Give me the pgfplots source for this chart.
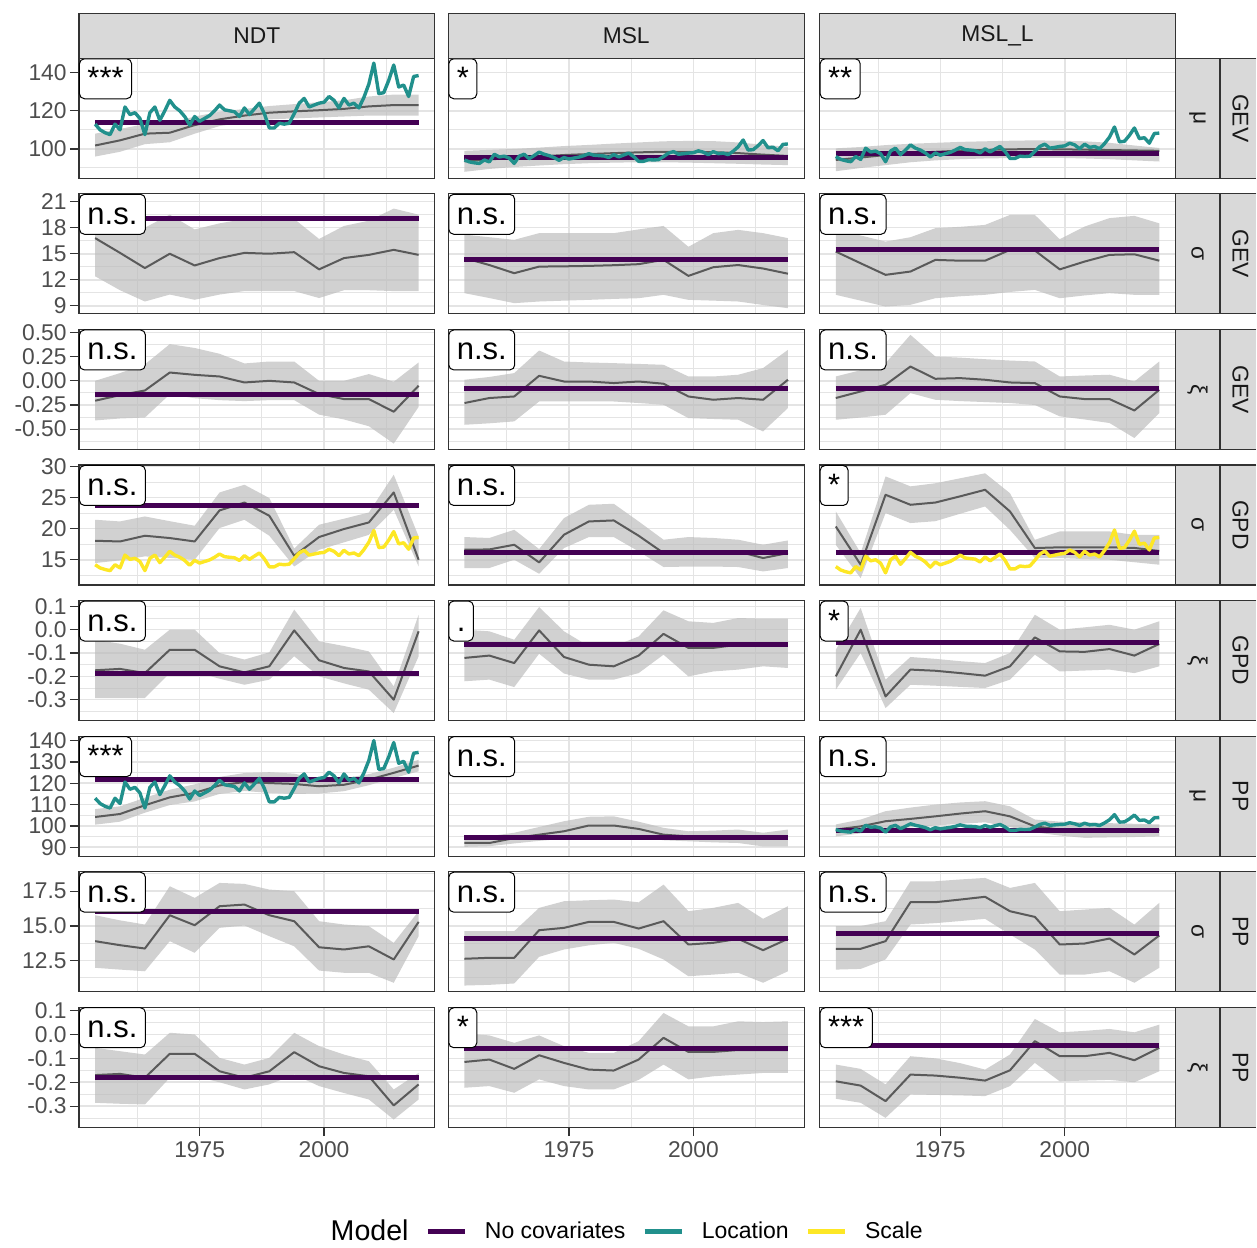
\documentclass[border=0pt]{standalone}
\usepackage{fontspec}
\setmainfont{Liberation Sans}
\usepackage{pgfplots}
\usepackage{pgfplotstable}
\pgfplotsset{compat=1.18}
\usepgfplotslibrary{fillbetween}

\definecolor{nocovc}{HTML}{440154}
\definecolor{locc}{HTML}{21908C}
\definecolor{sclc}{HTML}{FDE725}
\definecolor{glc}{HTML}{5A5A5A}
\definecolor{ribc}{HTML}{BDBDBD}
\definecolor{gridc}{HTML}{E4E4E4}
\definecolor{framec}{HTML}{333333}
\definecolor{stripc}{HTML}{D9D9D9}
\definecolor{tickc}{HTML}{4D4D4D}
\definecolor{stript}{HTML}{1A1A1A}

\newcommand\ticksize{\fontsize{11.4}{13.7}\selectfont}
\newcommand\sigsize{\fontsize{15.5}{18}\selectfont}
\newcommand\legsize{\fontsize{11.5}{14}\selectfont}

\tikzset{
  ribbonst/.style={fill=ribc, fill opacity=0.7, draw=none},
  glinest/.style={draw=glc, line width=1pt, line join=round},
  nocovst/.style={draw=nocovc, line width=2.5pt},
  locst/.style={draw=locc, line width=1.7pt, line join=round},
  sclst/.style={draw=sclc, line width=1.7pt, line join=round},
  sigst/.style={draw=black, fill=white, rounded corners=2.5pt, line width=0.5pt, anchor=north west,
     inner xsep=4pt, inner ysep=0pt, text height=15pt, text depth=5pt, font=\sigsize},
  striptext/.style={font=\ticksize, text=stript},
  stripbox/.style={fill=stripc, draw=framec, line width=0.6pt},
}

\pgfplotsset{
  mypanel/.style={
    width=178pt, height=60pt, scale only axis, anchor=north west,
    xmin=1950.75, xmax=2022.25,
    xtick={1975,2000}, minor xtick={1962.5,1987.5,2012.5},
    xticklabels={},
    grid=both,
    major grid style={draw=gridc, line width=0.8pt},
    minor grid style={draw=gridc, line width=0.5pt},
    tick align=outside, major tick length=4.5pt, minor tick length=0pt,
    tick pos=left,
    axis line style={draw=framec, line width=0.6pt},
    xtick style={draw=none}, ytick style={draw=none},
    tick label style={font=\ticksize, text=tickc},
    yticklabel style={inner xsep=1.5pt},
    xticklabel style={inner ysep=2.5pt},
    clip=false,
  },
  rowA/.style={ymin=84.64, ymax=147.55, ytick={100,120,140}, minor ytick={90,110,130}, yticklabels={100,120,140}},
  rowB/.style={ymin=8.09, ymax=21.9, ytick={9,12,15,18,21}, minor ytick={10.5,13.5,16.5,19.5}, yticklabels={9,12,15,18,21}},
  rowC/.style={ymin=-0.71, ymax=0.532, ytick={-0.5,-0.25,0,0.25,0.5}, minor ytick={-0.625,-0.375,-0.125,0.125,0.375}, yticklabels={-0.50,-0.25,0.00,0.25,0.50}},
  rowD/.style={ymin=10.95, ymax=30.24, ytick={15,20,25,30}, minor ytick={12.5,17.5,22.5,27.5}, yticklabels={15,20,25,30}},
  rowE/.style={ymin=-0.389, ymax=0.125, ytick={-0.3,-0.2,-0.1,0,0.1}, minor ytick={-0.35,-0.25,-0.15,-0.05,0.05}, yticklabels={-0.3,-0.2,-0.1,0.0,0.1}},
  rowF/.style={ymin=85.85, ymax=142.1, ytick={90,100,110,120,130,140}, minor ytick={95,105,115,125,135}, yticklabels={90,100,110,120,130,140}},
  rowG/.style={ymin=10.26, ymax=18.91, ytick={12.5,15,17.5}, minor ytick={11.25,13.75,16.25,18.75}, yticklabels={12.5,15.0,17.5}},
  rowH/.style={ymin=-0.388, ymax=0.114, ytick={-0.3,-0.2,-0.1,0,0.1}, minor ytick={-0.35,-0.25,-0.15,-0.05,0.05}, yticklabels={-0.3,-0.2,-0.1,0.0,0.1}},
  colA/.style={ytick style={draw=framec, line width=0.6pt}},
  colB/.style={yticklabels={}},
  colC/.style={yticklabels={}},
  botrow/.style={xticklabels={1975,2000}, xtick style={draw=framec, line width=0.6pt}},
}

% yearly series (Location / Scale models)
\pgfplotstableread{
yr t11 t12 t13 t61 t63 s41 s43
1954 113 94.2 96.0 113.0 98.3 14.20 13.90
1955 110 93.2 94.5 110.5 97.6 13.68 13.35
1956 108.5 92.7 93.8 109.2 97.3 13.43 13.07
1957 107.5 92.4 93.3 108.4 97.1 13.25 12.89
1958 113 94.2 96.0 113.0 98.3 14.20 13.90
1959 110 93.2 94.5 110.5 97.6 13.68 13.35
1960 122 97.2 100.4 120.6 100.3 15.75 15.56
1961 118 95.8 98.4 117.2 99.4 15.06 14.82
1962 119 96.2 98.9 118.1 99.6 15.23 15.00
1963 116 95.2 97.5 115.5 99.0 14.72 14.45
1964 107.5 92.4 93.3 108.4 97.1 13.25 12.89
1965 119 96.2 98.9 118.1 99.6 15.23 15.00
1966 122 97.2 100.4 120.6 100.3 15.75 15.56
1967 115 94.9 97.0 114.7 98.7 14.54 14.27
1968 120 96.5 99.4 118.9 99.8 15.40 15.19
1969 125.5 98.3 102.1 123.5 101.0 16.35 16.20
1970 122 97.2 100.4 120.6 100.3 15.75 15.56
1971 120 96.5 99.4 118.9 99.8 15.40 15.19
1972 117 95.5 97.9 116.4 99.2 14.89 14.64
1973 112.5 94.0 95.8 112.6 98.2 14.11 13.81
1974 117 95.5 97.9 116.4 99.2 14.89 14.64
1975 114.5 94.7 96.7 114.3 98.6 14.46 14.18
1976 116 95.2 97.5 115.5 99.0 14.72 14.45
1977 117.5 95.7 98.2 116.8 99.3 14.97 14.73
1978 120 96.5 99.4 118.9 99.8 15.40 15.19
1979 123 97.5 100.8 121.4 100.5 15.92 15.74
1980 120.5 96.7 99.6 119.3 99.9 15.49 15.28
1981 120 96.5 99.4 118.9 99.8 15.40 15.19
1982 119.5 96.3 99.1 118.5 99.7 15.32 15.10
1983 117 95.5 97.9 116.4 99.2 14.89 14.64
1984 121.5 97.0 100.1 120.2 100.2 15.66 15.46
1985 118 95.8 98.4 117.2 99.4 15.06 14.82
1986 121 96.8 99.9 119.7 100.1 15.58 15.37
1987 124 97.8 101.3 122.3 100.7 16.09 15.92
1988 118.5 96.0 98.7 117.6 99.5 15.15 14.91
1989 111 93.5 95.0 111.3 97.9 13.86 13.53
1990 111 93.5 95.0 111.3 97.9 13.86 13.53
1991 113.5 94.4 96.2 113.4 98.4 14.29 13.99
1992 113 94.2 96.0 113.0 98.3 14.20 13.90
1993 113.5 94.4 96.2 113.4 98.4 14.29 13.99
1994 118.5 96.0 98.7 117.6 99.5 15.15 14.91
1995 124 97.8 101.3 122.3 100.7 16.09 15.92
1996 126.5 98.6 102.5 124.4 101.3 16.52 16.38
1997 122 97.2 100.4 120.6 100.3 15.75 15.56
1998 123 97.5 100.8 121.4 100.5 15.92 15.74
1999 124 97.8 101.3 122.3 100.7 16.09 15.92
2000 124.5 98.0 101.6 122.7 100.8 16.18 16.02
2001 127.5 99.0 103.0 125.2 101.5 16.69 16.57
2002 125.5 98.3 102.1 123.5 101.0 16.35 16.20
2003 121.5 97.0 100.1 120.2 100.2 15.66 15.46
2004 126.5 98.6 102.5 124.4 101.3 16.52 16.38
2005 123 97.5 100.8 121.4 100.5 15.92 15.74
2006 124 97.8 101.3 122.3 100.7 16.09 15.92
2007 121.5 97.0 100.1 120.2 100.2 15.66 15.46
2008 127 98.8 102.8 124.8 101.4 16.61 16.48
2009 134 101.1 106.2 130.7 102.9 17.81 17.76
2010 145 104.7 111.5 140.0 105.3 19.70 19.79
2011 129 99.4 103.7 126.5 101.8 16.95 16.84
2012 129.5 99.6 104.0 126.9 101.9 17.04 16.94
2013 136 101.7 107.1 132.4 103.3 18.16 18.13
2014 144 104.4 111.0 139.1 105.1 19.53 19.60
2015 132.5 100.6 105.4 129.4 102.6 17.55 17.49
2016 133.5 100.9 105.9 130.3 102.8 17.73 17.67
2017 127.5 99.0 103.0 125.2 101.5 16.69 16.57
2018 138 102.4 108.1 134.1 103.8 18.50 18.50
2019 138.5 102.6 108.3 134.5 103.9 18.59 18.59
}\tY

% row tables: lower / estimate / upper for NDT (1), MSL (2), MSL_L (3)
\pgfplotstableread{
yr lo1 m1 hi1 lo2 m2 hi2 lo3 m3 hi3
1954 96 101.8 108 88 93.5 99 88.3 94.2 100.3
1959 98.5 104.5 110.5 89.5 94.5 99.5 90 95.5 101
1964 102.5 108 113 90.5 95.3 100 91.5 96.8 102
1969 103.5 108.5 113.5 91.3 96 100.7 93 97.8 102.7
1974 108 112.5 117 92 96.8 101.5 94 98.5 103.2
1979 112 115.5 119.5 92.5 97.3 102.1 94.6 99.1 103.7
1984 114 117.5 121 92.8 97.8 102.8 95 99.5 104
1989 115.5 119 122.5 93 98.2 103.4 95.2 99.8 104.3
1994 116 119.7 123.5 93 98.5 104 95.3 99.9 104.5
1999 116.5 120.3 124.5 92.8 98.5 104.2 95.3 99.8 104.3
2004 117 121 125.5 92.5 98.3 104.1 95 99.6 104
2009 117.5 122.3 127.5 92.2 97.8 103.4 94.6 99.4 103.2
2014 117.5 123 128.5 91.8 97 102.2 94 99.2 101.8
2019 117.5 123 128.5 91.5 96.3 101.1 93.4 99.0 100.5
}\tRa
\pgfplotstableread{
yr lo1 m1 hi1 lo2 m2 hi2 lo3 m3 hi3
1954 12.4 16.8 21.0 10.46 14.5 17.2 10.27 15.25 17.75
1959 10.8 15.1 19.5 9.9 13.7 16.9 9.6 13.9 17.1
1964 9.5 13.35 18.0 9.31 12.76 16.6 8.92 12.57 16.4
1969 10.3 15.0 19.5 9.5 13.52 17.37 9.12 12.95 16.9
1974 9.7 13.65 17.8 9.6 13.55 17.37 9.88 14.29 17.94
1979 10.3 14.5 18.5 9.69 13.6 17.37 10.1 14.2 18.1
1984 10.7 15.1 19.0 9.8 13.68 17.37 10.27 14.2 18.32
1989 10.7 15.0 19.0 9.88 13.8 17.8 10.6 15.44 19.47
1994 10.7 15.18 19.0 10.27 14.3 18.2 10.84 15.37 19.47
1999 9.9 13.2 16.7 9.69 12.45 15.8 9.88 13.2 16.67
2004 10.8 14.5 18.2 9.6 13.45 17.37 10.2 14.1 18.13
2009 10.8 14.87 18.8 9.5 13.7 17.75 10.46 14.87 19.1
2014 10.7 15.45 20.2 9.1 13.3 17.37 10.27 14.94 19.36
2019 10.7 14.87 19.5 8.73 12.7 16.8 10.27 14.2 18.5
}\tRb
\pgfplotstableread{
yr lo1 m1 hi1 lo2 m2 hi2 lo3 m3 hi3
1954 -0.41 -0.206 0.0 -0.455 -0.23 0.011 -0.403 -0.178 0.045
1959 -0.39 -0.148 0.08 -0.44 -0.178 0.04 -0.38 -0.11 0.11
1964 -0.38 -0.1 0.17 -0.42 -0.162 0.08 -0.351 -0.041 0.183
1969 -0.14 0.086 0.38 -0.214 0.052 0.314 -0.127 0.148 0.476
1974 -0.18 0.062 0.34 -0.214 -0.007 0.2 -0.196 0.021 0.252
1979 -0.2 0.045 0.28 -0.214 -0.007 0.19 -0.21 0.028 0.24
1984 -0.21 -0.017 0.18 -0.214 -0.023 0.183 -0.22 0.011 0.224
1989 -0.2 0.0 0.2 -0.23 -0.007 0.175 -0.23 -0.017 0.21
1994 -0.2 -0.017 0.2 -0.248 -0.03 0.166 -0.25 -0.024 0.2
1999 -0.35 -0.137 0.0 -0.386 -0.162 0.045 -0.368 -0.162 0.045
2004 -0.4 -0.189 0.0 -0.395 -0.196 0.045 -0.4 -0.189 0.055
2009 -0.47 -0.189 0.07 -0.403 -0.178 0.063 -0.437 -0.189 0.063
2014 -0.65 -0.32 -0.01 -0.524 -0.196 0.132 -0.592 -0.307 -0.007
2019 -0.27 -0.051 0.19 -0.282 0.011 0.321 -0.334 -0.093 0.2
}\tRc
\pgfplotstableread{
yr lo1 m1 hi1 lo2 m2 hi2 lo3 m3 hi3
1954 14.47 18.05 21.43 13.67 16.61 18.65 17.4 20.35 22.77
1959 14.9 17.94 21.16 13.67 16.66 18.5 12.05 14.2 16.08
1964 15.54 18.86 21.96 15.0 17.41 19.82 22.5 25.45 28.4
1969 15.3 18.49 21.2 12.75 14.57 16.72 20.9 23.84 26.8
1974 15.0 17.94 20.47 16.88 19.02 21.7 21.2 24.2 27.3
1979 20.1 22.93 25.82 18.65 21.16 23.84 22.4 25.2 28.1
1984 21.43 24.2 27.06 18.65 21.32 24.0 23.57 26.25 28.9
1989 18.86 22.07 24.92 16.34 18.86 21.16 19.8 22.77 25.7
1994 13.92 15.64 16.8 13.83 16.08 18.22 15.27 16.88 18.2
1999 16.6 18.65 20.63 13.9 16.34 18.65 15.27 17.0 19.55
2004 17.8 19.94 21.6 13.9 16.34 18.5 15.1 17.0 19.55
2009 19.0 21.0 22.6 13.83 16.34 18.22 15.0 17.0 19.55
2014 23.04 25.82 28.67 13.12 15.27 17.41 14.6 16.9 19.0
2019 13.92 15.0 18.75 13.67 16.08 18.1 14.2 16.4 19.0
}\tRd
\pgfplotstableread{
yr lo1 m1 hi1 lo2 m2 hi2 lo3 m3 hi3
1954 -0.293 -0.174 -0.043 -0.221 -0.121 0.0 -0.257 -0.2 -0.086
1959 -0.293 -0.168 -0.06 -0.214 -0.111 -0.007 -0.1 0.0 0.093
1964 -0.293 -0.186 -0.086 -0.246 -0.143 -0.043 -0.336 -0.286 -0.214
1969 -0.186 -0.086 0.0 -0.103 -0.003 0.097 -0.236 -0.171 -0.117
1974 -0.18 -0.086 0.0 -0.188 -0.117 -0.007 -0.24 -0.176 -0.125
1979 -0.21 -0.157 -0.1 -0.214 -0.15 -0.071 -0.245 -0.186 -0.135
1984 -0.236 -0.183 -0.128 -0.214 -0.157 -0.071 -0.25 -0.197 -0.143
1989 -0.214 -0.157 -0.097 -0.186 -0.111 -0.029 -0.214 -0.157 -0.1
1994 -0.114 -0.003 0.086 -0.107 -0.018 0.083 -0.107 -0.033 0.064
1999 -0.2 -0.131 -0.05 -0.2 -0.078 0.036 -0.179 -0.093 0.0
2004 -0.23 -0.164 -0.07 -0.179 -0.078 0.029 -0.175 -0.095 0.01
2009 -0.257 -0.179 -0.093 -0.171 -0.064 0.05 -0.171 -0.083 0.021
2014 -0.357 -0.3 -0.243 -0.157 -0.064 0.047 -0.186 -0.111 0.0
2019 -0.114 -0.007 0.064 -0.164 -0.064 0.047 -0.157 -0.061 0.036
}\tRe
\pgfplotstableread{
yr lo1 m1 hi1 lo2 m2 hi2 lo3 m3 hi3
1954 100.6 104.2 107.9 90.2 92.0 94.9 95.1 98.3 100.7
1959 102.0 105.6 109.2 90.5 92.0 95.2 96.5 99.8 103.0
1964 106.2 109.7 113.2 91.8 94.3 96.8 98.3 102.2 106.9
1969 109.8 113.4 117.0 93.0 95.9 99.5 99.3 103.3 108.6
1974 111.5 115.5 119.5 94.0 97.5 102.2 100.2 104.5 110.0
1979 115.0 119.0 123.0 95.0 100.2 104.3 101.0 105.8 111.0
1984 116.4 120.6 124.8 95.5 100.2 104.5 101.7 106.9 111.6
1989 115.5 120.1 125.2 95.0 98.6 102.0 99.5 104.5 109.2
1994 115.0 119.7 124.5 93.3 95.9 99.1 97.0 99.8 103.0
1999 115.2 118.6 122.0 92.8 95.1 97.5 95.5 98.3 102.0
2004 116.3 119.3 122.3 92.3 94.8 97.8 94.4 98.0 101.7
2009 119.1 121.7 124.3 92.0 95.1 98.3 94.6 98.0 101.3
2014 122.5 124.9 127.3 90.4 94.3 96.8 94.8 98.0 101.0
2019 125.6 128.3 131.0 90.4 94.3 98.3 95.1 98.1 100.7
}\tRf
\pgfplotstableread{
yr lo1 m1 hi1 lo2 m2 hi2 lo3 m3 hi3
1954 11.98 13.9 15.77 10.7 12.63 14.62 11.85 13.35 14.98
1959 11.85 13.61 15.4 10.75 12.7 14.62 11.9 13.35 14.99
1964 11.73 13.37 15.1 10.85 12.7 14.62 12.58 13.9 15.34
1969 13.9 15.77 17.86 12.77 14.69 16.3 15.1 16.71 18.22
1974 13.06 15.05 17.02 13.3 14.86 16.78 15.2 16.71 18.22
1979 14.86 16.42 18.1 13.6 15.29 16.85 15.35 16.9 18.35
1984 15.03 16.54 18.03 13.78 15.29 16.9 15.51 17.1 18.46
1989 14.26 15.77 17.62 13.35 14.81 16.7 14.38 16.06 17.74
1994 13.53 15.34 17.5 12.58 15.34 17.98 13.3 15.65 18.1
1999 11.78 13.46 15.34 11.37 13.66 16.06 11.49 13.66 16.06
2004 11.62 13.3 15.1 11.49 13.78 16.3 11.49 13.73 16.18
2009 11.62 13.53 14.98 11.62 14.07 16.66 11.73 14.09 16.3
2014 10.9 12.58 13.78 10.9 13.25 15.51 10.9 12.94 15.1
2019 14.26 15.29 16.06 11.73 14.07 16.42 11.98 14.31 16.66
}\tRg
\pgfplotstableread{
yr lo1 m1 hi1 lo2 m2 hi2 lo3 m3 hi3
1954 -0.286 -0.17 -0.056 -0.223 -0.115 0.004 -0.269 -0.196 -0.126
1959 -0.29 -0.165 -0.07 -0.216 -0.105 -0.004 -0.286 -0.214 -0.144
1964 -0.293 -0.181 -0.084 -0.244 -0.144 -0.035 -0.349 -0.279 -0.209
1969 -0.181 -0.081 0.007 -0.188 -0.087 -0.004 -0.251 -0.168 -0.091
1974 -0.175 -0.081 0.0 -0.216 -0.119 -0.049 -0.253 -0.172 -0.1
1979 -0.2 -0.154 -0.098 -0.23 -0.147 -0.077 -0.255 -0.181 -0.12
1984 -0.23 -0.181 -0.126 -0.23 -0.151 -0.077 -0.258 -0.193 -0.147
1989 -0.209 -0.154 -0.098 -0.19 -0.105 -0.028 -0.216 -0.15 -0.084
1994 -0.168 -0.074 0.007 -0.126 -0.014 0.09 -0.119 -0.028 0.065
1999 -0.216 -0.133 -0.049 -0.188 -0.073 0.034 -0.196 -0.091 0.009
2004 -0.245 -0.161 -0.084 -0.175 -0.073 0.034 -0.193 -0.091 0.015
2009 -0.272 -0.175 -0.112 -0.168 -0.065 0.055 -0.19 -0.077 0.023
2014 -0.356 -0.297 -0.23 -0.161 -0.065 0.052 -0.2 -0.108 0.009
2019 -0.272 -0.209 -0.161 -0.161 -0.065 0.055 -0.154 -0.056 0.041
}\tRh

% #1 name, #2 position, #3 options, #4 table, #5 column, #6 no-covariates value, #7 label, #8 extra plots
\newcommand{\panel}[8]{%
\begin{axis}[mypanel, name=#1, at={#2}, #3]
\addplot[name path=lowb, draw=none, forget plot] table[x=yr, y=lo#5]{#4};
\addplot[name path=highb, draw=none, forget plot] table[x=yr, y=hi#5]{#4};
\addplot[ribbonst, forget plot] fill between[of=lowb and highb];
\addplot[glinest, forget plot] table[x=yr, y=m#5]{#4};
\addplot[nocovst, forget plot] coordinates {(1954,#6) (2019,#6)};
#8
\node[sigst] at (rel axis cs:0,1) {#7};
\end{axis}}

\begin{document}
\begin{tikzpicture}

% Row 1: GEV mu
\panel{a11}{(39.5pt,-29.15pt)}{rowA,colA}{\tRa}{1}{113.8}{***}{\addplot[locst, forget plot] table[x=yr,y=t11]{\tY};}
\panel{a12}{(224.25pt,-29.15pt)}{rowA,colB}{\tRa}{2}{95.4}{*}{\addplot[locst, forget plot] table[x=yr,y=t12]{\tY};}
\panel{a13}{(410pt,-29.15pt)}{rowA,colC}{\tRa}{3}{97.7}{**}{\addplot[locst, forget plot] table[x=yr,y=t13]{\tY};}
% Row 2: GEV sigma
\panel{a21}{(39.5pt,-96.95pt)}{rowB,colA}{\tRb}{1}{19.09}{n.s.}{}
\panel{a22}{(224.25pt,-96.95pt)}{rowB,colB}{\tRb}{2}{14.29}{n.s.}{}
\panel{a23}{(410pt,-96.95pt)}{rowB,colC}{\tRb}{3}{15.44}{n.s.}{}
% Row 3: GEV xi
\panel{a31}{(39.5pt,-164.8pt)}{rowC,colA}{\tRc}{1}{-0.144}{n.s.}{}
\panel{a32}{(224.25pt,-164.8pt)}{rowC,colB}{\tRc}{2}{-0.075}{n.s.}{}
\panel{a33}{(410pt,-164.8pt)}{rowC,colC}{\tRc}{3}{-0.082}{n.s.}{}
% Row 4: GPD sigma
\panel{a41}{(39.5pt,-232.6pt)}{rowD,colA}{\tRd}{1}{23.68}{n.s.}{\addplot[sclst, forget plot] table[x=yr,y=s41]{\tY};}
\panel{a42}{(224.25pt,-232.6pt)}{rowD,colB}{\tRd}{2}{16.24}{n.s.}{}
\panel{a43}{(410pt,-232.6pt)}{rowD,colC}{\tRd}{3}{16.24}{*}{\addplot[sclst, forget plot] table[x=yr,y=s43]{\tY};}
% Row 5: GPD xi
\panel{a51}{(39.5pt,-300.4pt)}{rowE,colA}{\tRe}{1}{-0.186}{n.s.}{}
\panel{a52}{(224.25pt,-300.4pt)}{rowE,colB}{\tRe}{2}{-0.064}{.}{}
\panel{a53}{(410pt,-300.4pt)}{rowE,colC}{\tRe}{3}{-0.053}{*}{}
% Row 6: PP mu
\panel{a61}{(39.5pt,-368.25pt)}{rowF,colA}{\tRf}{1}{121.7}{***}{\addplot[locst, forget plot] table[x=yr,y=t61]{\tY};}
\panel{a62}{(224.25pt,-368.25pt)}{rowF,colB}{\tRf}{2}{94.7}{n.s.}{}
\panel{a63}{(410pt,-368.25pt)}{rowF,colC}{\tRf}{3}{98.0}{n.s.}{\addplot[locst, forget plot] table[x=yr,y=t63]{\tY};}
% Row 7: PP sigma
\panel{a71}{(39.5pt,-436.05pt)}{rowG,colA}{\tRg}{1}{16.01}{n.s.}{}
\panel{a72}{(224.25pt,-436.05pt)}{rowG,colB}{\tRg}{2}{14.09}{n.s.}{}
\panel{a73}{(410pt,-436.05pt)}{rowG,colC}{\tRg}{3}{14.45}{n.s.}{}
% Row 8: PP xi
\panel{a81}{(39.5pt,-503.85pt)}{rowH,colA,botrow}{\tRh}{1}{-0.181}{n.s.}{}
\panel{a82}{(224.25pt,-503.85pt)}{rowH,colB,botrow}{\tRh}{2}{-0.059}{*}{}
\panel{a83}{(410pt,-503.85pt)}{rowH,colC,botrow}{\tRh}{3}{-0.045}{***}{}

% top strips
\path[stripbox] (a11.north west) rectangle ([yshift=22.5pt]a11.north east);
\node[striptext] at ([yshift=11.25pt]a11.north) {NDT};
\path[stripbox] (a12.north west) rectangle ([yshift=22.5pt]a12.north east);
\node[striptext] at ([yshift=11.25pt]a12.north) {MSL};
\path[stripbox] (a13.north west) rectangle ([yshift=22.5pt]a13.north east);
\node[striptext] at ([yshift=11.25pt]a13.north) {MSL\_L};

% right strips
\foreach \r/\p/\m in {1/μ/GEV, 2/σ/GEV, 3/ξ/GEV, 4/σ/GPD, 5/ξ/GPD, 6/μ/PP, 7/σ/PP, 8/ξ/PP}{
  \path[stripbox] (a\r3.north east) rectangle ([xshift=22pt]a\r3.south east);
  \node[striptext, rotate=-90] at ([xshift=11pt]a\r3.east) {\p};
  \path[fill=stripc] ([xshift=22.5pt]a\r3.north east) rectangle ([xshift=40.5pt]a\r3.south east);
  \draw[draw=framec, line width=0.6pt] ([xshift=40.5pt]a\r3.north east) -- ([xshift=22.5pt]a\r3.north east) -- ([xshift=22.5pt]a\r3.south east) -- ([xshift=40.5pt]a\r3.south east);
  \node[striptext, rotate=-90] at ([xshift=32.5pt]a\r3.east) {\m};
}

% legend
\begin{axis}[at={(309pt,-616pt)}, anchor=center, hide axis, scale only axis,
  width=1pt, height=1pt, xmin=0, xmax=1, ymin=0, ymax=1,
  legend columns=4,
  legend image code/.code={\draw[#1] (0pt,0pt) -- (18.5pt,0pt);},
  legend style={at={(0.5,0.5)}, anchor=center, draw=none, fill=none, font=\legsize,
    nodes={inner sep=0pt},
    /tikz/every odd column/.append style={column sep=9pt},
    /tikz/every even column/.append style={column sep=8.5pt}}]
\addlegendimage{empty legend}
\addlegendentry{\fontsize{14.3}{17}\selectfont Model}
\addlegendimage{draw=nocovc, line width=2.2pt}
\addlegendentry{No covariates}
\addlegendimage{draw=locc, line width=2.2pt}
\addlegendentry{Location}
\addlegendimage{draw=sclc, line width=2.2pt}
\addlegendentry{Scale}
\end{axis}

\path (0,0) rectangle (628.5pt,-621.5pt);
\end{tikzpicture}
\end{document}
